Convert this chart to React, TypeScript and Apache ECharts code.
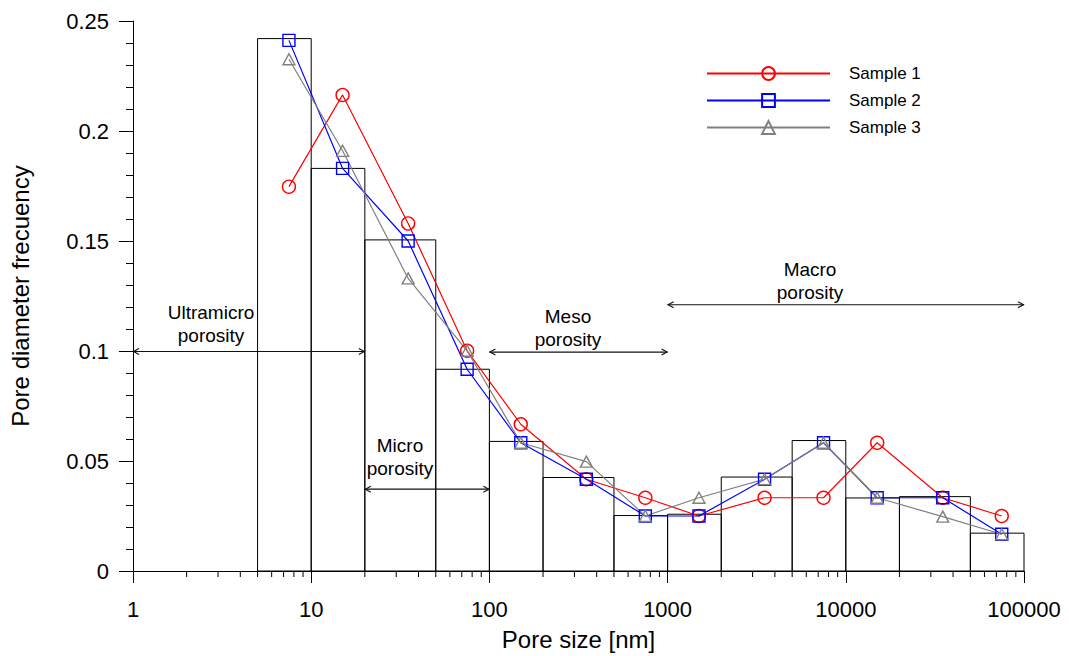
import React, { useEffect, useRef } from 'react';
import * as echarts from 'echarts';

const FONT = "'Liberation Sans', Arial, Helvetica, sans-serif";

// Histogram bins (pore size, nm) and their frequencies
const binEdges = [5, 10, 20, 50, 100, 200, 500, 1000, 2000, 5000, 10000, 20000, 50000, 100000];
const binFreq = [0.242, 0.183, 0.1505, 0.0917, 0.0589, 0.0425, 0.0252, 0.0258, 0.0427, 0.0593, 0.0332, 0.0338, 0.0172];

// Sample curves (bin mid points)
const poreSize = [7.5, 15, 35, 75, 150, 350, 750, 1500, 3500, 7500, 15000, 35000, 75000];
const sample1 = [0.1747, 0.2164, 0.158, 0.1001, 0.0667, 0.0417, 0.0333, 0.025, 0.0333, 0.0333, 0.0583, 0.0333, 0.025];
const sample2 = [0.2412, 0.183, 0.1500, 0.0917, 0.0583, 0.0417, 0.025, 0.025, 0.0417, 0.0583, 0.0333, 0.0333, 0.0167];
const sample3 = [0.2326, 0.191, 0.133, 0.1001, 0.0583, 0.0497, 0.025, 0.0333, 0.0417, 0.0583, 0.0333, 0.0247, 0.0167];

const xTickLabels = ['1', '10', '100', '1000', '10000', '100000'];
const yTickLabels = ['0', '0.05', '0.1', '0.15', '0.2', '0.25'];

// Porosity ranges: [from, to, y]
const rangeArrows = [
  [1, 20, 0.0998],
  [20, 100, 0.0372],
  [100, 1000, 0.0995],
  [1000, 100000, 0.121],
];
// Range labels: [x, y, text]
const rangeLabels: [number, number, string][] = [
  [2.74, 0.1125, 'Ultramicro\nporosity'],
  [31.5, 0.0518, 'Micro\nporosity'],
  [276, 0.1105, 'Meso\nporosity'],
  [6300, 0.1318, 'Macro\nporosity'],
];

const minorTickVals: number[] = [];
for (let d = 1; d < 100000; d *= 10) {
  for (let m = 2; m <= 9; m++) minorTickVals.push(d * m);
}

export default function App() {
  const ref = useRef<HTMLDivElement>(null);
  useEffect(() => {
    document.body.style.margin = '0';
    const chart = echarts.init(ref.current!, null, { renderer: 'svg' });
    const mk = (name: string, data: number[], color: string, symbol: string, size: any) => ({
      name,
      type: 'line',
      data: poreSize.map((x, i) => [x, data[i]]),
      symbol,
      symbolSize: size,
      z: 5,
      lineStyle: { color, width: 1.2 },
      itemStyle: { color: 'rgba(255,255,255,0)', borderColor: color, borderWidth: 1.4 },
      emphasis: { disabled: true },
    });
    chart.setOption({
      animation: false,
      grid: { left: 133, right: 45, top: 21, bottom: 85, outerBoundsMode: 'none' },
      legend: {
        data: ['Sample 1', 'Sample 2', 'Sample 3'],
        orient: 'vertical',
        left: 701,
        top: 60,
        itemWidth: 123,
        itemHeight: 16,
        itemGap: 10,
        selectedMode: false,
        textStyle: { fontSize: 17, fontFamily: FONT, color: '#000', padding: [0, 0, 0, 14] },
      },
      xAxis: {
        type: 'log',
        logBase: 10,
        min: 1,
        max: 100000,
        name: 'Pore size [nm]',
        nameLocation: 'middle',
        nameGap: 56,
        nameTextStyle: { fontSize: 24, fontFamily: FONT, color: '#000' },
        axisLine: { show: true, lineStyle: { color: '#000', width: 1 } },
        axisTick: { show: true, length: 12, lineStyle: { color: '#000' } },
        axisLabel: {
          fontSize: 22,
          fontFamily: FONT,
          color: '#000',
          margin: 27,
          formatter: (v: number) => xTickLabels[Math.round(Math.log10(v))] ?? '',
        },
        splitLine: { show: false },
      },
      yAxis: {
        type: 'value',
        min: 0,
        max: 0.25,
        interval: 0.05,
        name: 'Pore diameter frecuency',
        nameLocation: 'middle',
        nameGap: 101,
        nameTextStyle: { fontSize: 24, fontFamily: FONT, color: '#000' },
        axisLine: { show: true, lineStyle: { color: '#000', width: 1 } },
        axisTick: { show: true, length: 14, lineStyle: { color: '#000' } },
        minorTick: { show: true, splitNumber: 5, length: 7, lineStyle: { color: '#000' } },
        axisLabel: {
          fontSize: 22,
          fontFamily: FONT,
          color: '#000',
          margin: 24,
          formatter: (v: number) => yTickLabels[Math.round(v / 0.05)] ?? '',
        },
        splitLine: { show: false },
      },
      series: [
        {
          type: 'custom',
          name: 'bins',
          z: 1,
          clip: false,
          silent: true,
          encode: { x: [0, 1], y: 2 },
          data: binFreq.map((f, i) => [binEdges[i], binEdges[i + 1], f]),
          renderItem: (params: any, api: any) => {
            const p0 = api.coord([api.value(0), api.value(2)]);
            const p1 = api.coord([api.value(1), 0]);
            return {
              type: 'rect',
              shape: { x: p0[0], y: p0[1], width: p1[0] - p0[0], height: p1[1] - p0[1] },
              style: { fill: 'none', stroke: '#000', lineWidth: 1 },
            };
          },
        },
        {
          type: 'custom',
          name: 'minorTicks',
          z: 1,
          clip: false,
          silent: true,
          encode: { x: 0, y: 1 },
          data: minorTickVals.map((v) => [v, 0]),
          renderItem: (params: any, api: any) => {
            const p = api.coord([api.value(0), 0]);
            return {
              type: 'line',
              shape: { x1: p[0], y1: p[1], x2: p[0], y2: p[1] + 6 },
              style: { stroke: '#000', lineWidth: 1 },
            };
          },
        },
        {
          type: 'custom',
          name: 'arrows',
          z: 3,
          clip: false,
          silent: true,
          encode: { x: [0, 1], y: 2 },
          data: rangeArrows,
          renderItem: (params: any, api: any) => {
            const a = api.coord([api.value(0), api.value(2)]);
            const b = api.coord([api.value(1), api.value(2)]);
            const st = { stroke: '#111', lineWidth: 1.1, fill: 'none' };
            return {
              type: 'group',
              children: [
                { type: 'line', shape: { x1: a[0], y1: a[1], x2: b[0], y2: b[1] }, style: st },
                { type: 'polyline', shape: { points: [[a[0] + 6, a[1] - 3], [a[0] + 0.5, a[1]], [a[0] + 6, a[1] + 3]] }, style: st },
                { type: 'polyline', shape: { points: [[b[0] - 6, b[1] - 3], [b[0] - 0.5, b[1]], [b[0] - 6, b[1] + 3]] }, style: st },
              ],
            };
          },
        },
        {
          type: 'custom',
          name: 'rangeLabels',
          z: 3,
          clip: false,
          silent: true,
          encode: { x: 0, y: 1 },
          data: rangeLabels.map((r) => ({ value: [r[0], r[1]], name: r[2] })),
          renderItem: (params: any, api: any) => {
            const p = api.coord([api.value(0), api.value(1)]);
            return {
              type: 'text',
              x: p[0],
              y: p[1],
              style: {
                text: rangeLabels[params.dataIndex][2],
                fontSize: 19,
                fontFamily: FONT,
                fill: '#000',
                align: 'center',
                verticalAlign: 'middle',
                lineHeight: 23,
              },
            };
          },
        },
        mk('Sample 1', sample1, '#ff0000', 'circle', 13),
        mk('Sample 2', sample2, '#0000ff', 'rect', 12),
        mk('Sample 3', sample3, '#808080', 'triangle', [12, 11]),
      ],
    });
    return () => chart.dispose();
  }, []);
  return <div ref={ref} style={{ width: 1069, height: 656 }} />;
}
